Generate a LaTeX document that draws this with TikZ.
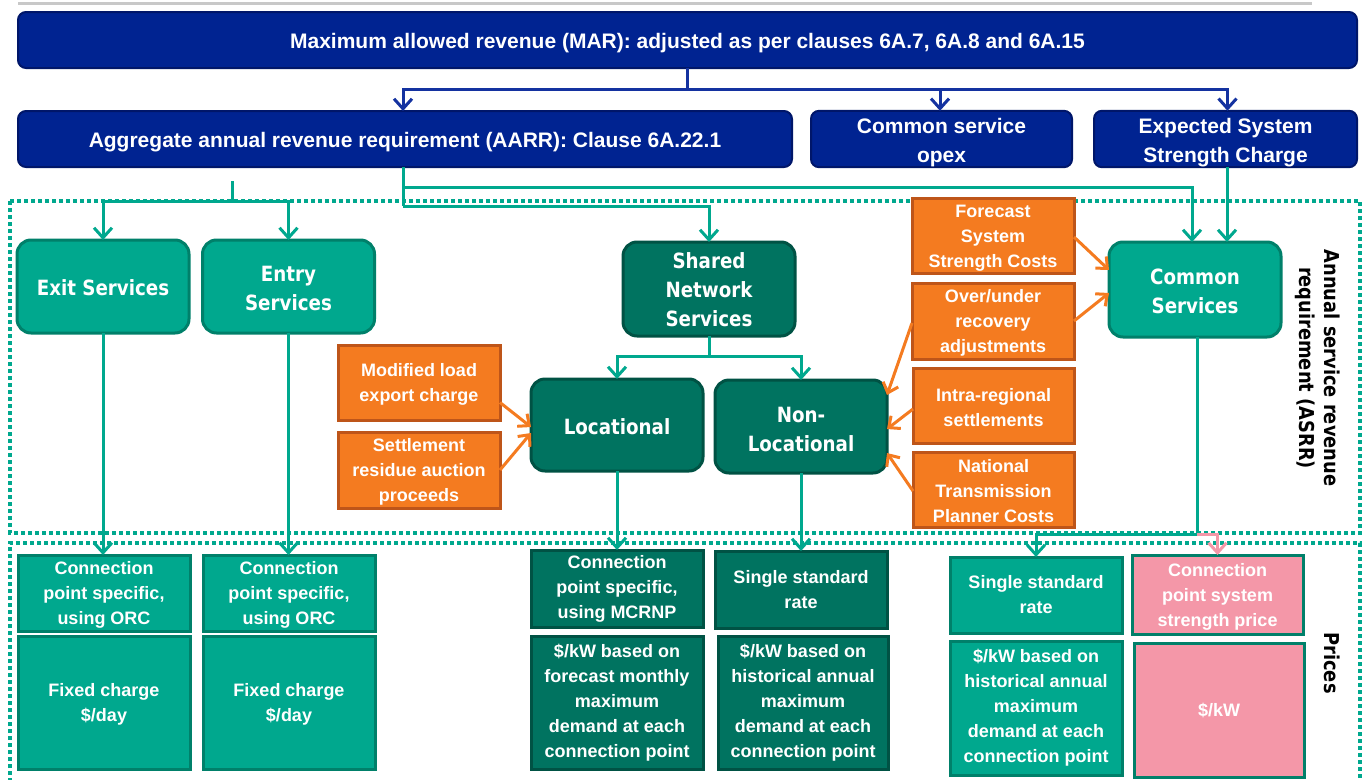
\documentclass[tikz,border=0pt]{standalone}
\usepackage{fontspec}
\setmainfont{Liberation Sans}
\newfontfamily\tahoma[FakeStretch=0.87]{DejaVu Sans}
\usetikzlibrary{arrows.meta}
\definecolor{mblue}{RGB}{0,35,145}
\definecolor{mblueb}{RGB}{0,22,105}
\definecolor{arrblue}{RGB}{20,50,160}
\definecolor{teal1}{RGB}{0,168,142}
\definecolor{teal1b}{RGB}{0,128,106}
\definecolor{dgreen}{RGB}{0,115,96}
\definecolor{dgreenb}{RGB}{0,82,68}
\definecolor{orng}{RGB}{244,123,32}
\definecolor{orngb}{RGB}{190,85,25}
\definecolor{pnk}{RGB}{244,151,168}
\definecolor{topgray}{RGB}{200,200,200}
\newcommand{\strA}{\rule{0pt}{23pt}}
\newcommand{\strT}{\rule{0pt}{20pt}}
\newcommand{\strB}{\rule{0pt}{17pt}}
\begin{document}
\begin{tikzpicture}[x=1pt,y=-1pt,
  box/.style={draw, inner sep=0pt, outer sep=0pt, align=center, text=white},
  bluebox/.style={box, fill=mblue, draw=mblueb, line width=2pt, rounded corners=8pt,
    minimum height=56pt, font=\bfseries\fontsize{21}{29}\selectfont,
    execute at begin node={\rule{0pt}{21pt}}},
  tealr/.style={box, fill=teal1, draw=teal1b, line width=3pt, rounded corners=14pt,
    minimum width=172pt, font=\tahoma\bfseries\fontsize{21}{29}\selectfont,
    execute at begin node={\rule{0pt}{19pt}}},
  dgr/.style={tealr, fill=dgreen, draw=dgreenb},
  obox/.style={box, fill=orng, draw=orngb, line width=3pt, minimum width=162pt,
    font=\bfseries\fontsize{18}{25}\selectfont},
  tealq/.style={box, fill=teal1, draw=teal1b, line width=3pt, minimum width=172pt,
    font=\bfseries\fontsize{18}{25}\selectfont},
  dgq/.style={tealq, fill=dgreen, draw=dgreenb},
  pq/.style={tealq, fill=pnk, draw=teal1b},
  frame/.style={draw=teal1, line width=4pt, dash pattern=on 4pt off 3pt},
  bline/.style={draw=arrblue, line width=3pt},
  barrow/.style={bline, -{Straight Barb[length=10pt,width=18pt]}},
  gline/.style={draw=teal1, line width=3pt},
  garrow/.style={gline, -{Straight Barb[length=10pt,width=18pt]}},
  oarrow/.style={draw=orng, line width=3pt, -{Straight Barb[length=9pt,width=16pt]}},
  parrow/.style={draw=pnk, line width=3pt, -{Straight Barb[length=10pt,width=18pt]}},
  sidelabel/.style={rotate=-90, align=center, text=black, inner sep=0pt,
    font=\tahoma\bfseries\fontsize{20.5}{25}\selectfont}
]
\useasboundingbox (0,0) rectangle (1365,779);
\draw[topgray, line width=3pt] (18,3) -- (1312,3);

% dotted regions
\draw[frame] (10,201) rectangle (1360,533);
\draw[frame] (10,782) -- (10,543) -- (1360,543) -- (1360,782);

% top blue boxes
\node[bluebox, minimum width=1339pt] (mar) at (687.5,40)
  {Maximum allowed revenue (MAR): adjusted as per clauses 6A.7, 6A.8 and 6A.15};
\node[bluebox, minimum width=774pt] (aarr) at (405,139)
  {Aggregate annual revenue requirement (AARR): Clause 6A.22.1};
\node[bluebox, minimum width=261pt] (cso) at (941.5,139) {\strA Common service\\opex};
\node[bluebox, minimum width=263pt] (essc) at (1225.5,139) {\strA Expected System\\Strength Charge};

% service boxes
\node[tealr, minimum height=93pt] (exit) at (103,286.5) {Exit Services};
\node[tealr, minimum height=93pt] (entry) at (288.5,286.5) {\strT Entry\\Services};
\node[dgr, minimum height=94pt] (sns) at (709,289) {\rule{0pt}{18pt}Shared\\Network\\Services};
\node[tealr, minimum height=95pt] (common) at (1195,289.5) {\strT Common\\Services};
\node[dgr, minimum height=92pt] (loc) at (617,425) {Locational};
\node[dgr, minimum height=93pt] (nonloc) at (801,426.5) {\rule{0pt}{21pt}Non-\\Locational};

% orange boxes
\node[obox, minimum height=75pt] (mod) at (419,382.5) {\strB Modified load\\export charge};
\node[obox, minimum height=76pt] (set) at (419,470) {\strB Settlement\\residue auction\\proceeds};
\node[obox, minimum height=75pt] (fssc) at (993,235.5) {\strB Forecast\\System\\Strength Costs};
\node[obox, minimum height=76pt] (over) at (993,321) {\strB Over/under\\recovery\\adjustments};
\node[obox, minimum height=75pt, minimum width=161pt] (intra) at (993.5,405.5) {\strB Intra-regional\\settlements};
\node[obox, minimum height=75pt, minimum width=161pt] (ntp) at (993.5,489.5) {\strB National\\Transmission\\Planner Costs};

% price boxes
\node[tealq, minimum height=76pt] (orc1) at (104,593) {\strB Connection\\point specific,\\using ORC};
\node[tealq, minimum height=133pt] (fix1) at (104,702.5) {\strB Fixed charge\\\$/day};
\node[tealq, minimum height=76pt] (orc2) at (289,593) {\strB Connection\\point specific,\\using ORC};
\node[tealq, minimum height=133pt] (fix2) at (289,702.5) {\strB Fixed charge\\\$/day};
\node[dgq, minimum height=77pt] (mcr) at (617,588.5) {Connection\\point specific,\\using MCRNP};
\node[dgq, minimum height=133pt] (lockw) at (617,702.5) {\$/kW based on\\forecast monthly\\maximum\\demand at each\\connection point};
\node[dgq, minimum height=77pt] (ssr1) at (801,589.5) {Single standard\\rate};
\node[dgq, minimum height=133pt, minimum width=170pt] (nlkw) at (803,702.5) {\$/kW based on\\historical annual\\maximum\\demand at each\\connection point};
\node[tealq, minimum height=76pt] (ssr2) at (1036,595) {Single standard\\rate};
\node[tealq, minimum height=134pt] (ckw) at (1036,708) {\$/kW based on\\historical annual\\maximum\\demand at each\\connection point};
\node[pq, minimum height=79pt, minimum width=171pt] (cpss) at (1217.5,594.5) {\strB Connection\\point system\\strength price};
\node[pq, minimum height=134pt, minimum width=170pt] (pkw) at (1219,710) {\$/kW};

% side labels
\node[sidelabel] (asrr) at (1318,368) {Annual service revenue\\requirement (ASRR)};
\node[sidelabel] (prices) at (1332,663) {Prices};

% blue connectors
\coordinate (b1) at (687.5,89);
\draw[bline] (mar.south) -- (b1);
\draw[barrow] (b1) -| ([xshift=-2pt]aarr.north);
\draw[barrow] (b1) -| ([xshift=-1.5pt]cso.north);
\draw[barrow] (b1) -| ([xshift=2pt]essc.north);

% green connectors from AARR
\coordinate (g0) at (232,181);
\coordinate (g1) at (232,201);
\draw[gline] (g0) -- (g1);
\draw[garrow] (g1) -| (exit.north);
\draw[garrow] (g1) -| (entry.north);
\coordinate (g2) at (403,187);
\coordinate (g3) at (403,206);
\draw[gline] ([xshift=-2pt]aarr.south) -- (g3);
\draw[garrow] (g2) -| ([xshift=-3pt]common.north);
\draw[garrow] (g3) -| (sns.north);
\draw[garrow] ([xshift=1.5pt]essc.south) -- ([xshift=1.5pt]essc.south |- common.north);

% shared network split
\coordinate (s1) at (709,356);
\draw[gline] (sns.south) -- (s1);
\draw[garrow] (s1) -| (loc.north);
\draw[garrow] (s1) -| (nonloc.north);

% orange connectors
\draw[oarrow] ([yshift=-20pt]mod.east) -- ([yshift=-2pt]loc.west);
\draw[oarrow] (set.east) -- ([yshift=-8pt]loc.west);
\draw[oarrow] ([yshift=-1.5pt]fssc.east) -- ([yshift=19.5pt]common.west);
\draw[oarrow] (over.east) -- ([yshift=-3.5pt]common.west);
\draw[oarrow] ([yshift=-2pt]over.west) -- ([yshift=31.5pt]nonloc.east);
\draw[oarrow] ([yshift=-3.5pt]intra.west) -- ([yshift=-2.5pt]nonloc.east);
\draw[oarrow] ([yshift=-1.5pt]ntp.west) -- ([yshift=-26.5pt]nonloc.east);

% downward connectors to prices
\draw[garrow] (exit.south) -- (exit.south |- orc1.north);
\draw[garrow] (entry.south) -- (entry.south |- orc2.north);
\draw[garrow] (loc.south) -- (loc.south |- mcr.north);
\draw[garrow] (nonloc.south) -- (nonloc.south |- ssr1.north);
\coordinate (c1) at (1197,534);
\draw[gline] ([xshift=2pt]common.south) -- (c1);
\draw[garrow] (c1) -| (ssr2.north);
\draw[parrow] (c1) -| (cpss.north);
\end{tikzpicture}
\end{document}
